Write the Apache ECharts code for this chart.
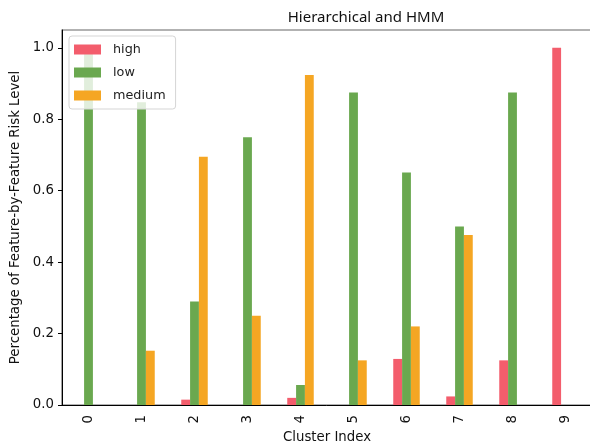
<!DOCTYPE html>
<html>
<head>
<meta charset="utf-8">
<script src="https://cdn.jsdelivr.net/npm/echarts@6/dist/echarts.min.js"></script>
<style>
  html, body { margin: 0; padding: 0; background: #fff; }
  #chart { width: 590px; height: 445px; }
</style>
</head>
<body>
<div id="chart"></div>
<script>
// Cluster indices along the x axis
const clusters = ['0', '1', '2', '3', '4', '5', '6', '7', '8', '9'];

// Share of features at each risk level, per cluster
const high   = [0,    0,     0.015, 0,    0.02,  0,     0.129, 0.024, 0.125, 1.0];
const low    = [1.0,  0.848, 0.29,  0.75, 0.056, 0.875, 0.651, 0.5,   0.875, 0];
const medium = [0,    0.152, 0.695, 0.25, 0.924, 0.125, 0.22,  0.476, 0,     0];

// Y-axis tick values
const yTicks = [0, 0.2, 0.4, 0.6, 0.8, 1.0];

const FONT = 'DejaVu Sans';
const FS = 13.3;

const chart = echarts.init(document.getElementById('chart'), null, { renderer: 'canvas' });

function barSeries(name, data, color) {
  return {
    name: name,
    type: 'bar',
    data: data,
    barGap: '0%',
    barCategoryGap: '50%',
    itemStyle: { color: color, borderWidth: 0 },
    emphasis: { disabled: true }
  };
}

chart.setOption({
  animation: false,
  backgroundColor: '#ffffff',
  title: {
    text: 'Hierarchical and HMM',
    left: 361,
    top: 5,
    textAlign: 'center',
    textStyle: { fontFamily: 'Noto Sans', fontSize: 15, fontWeight: 'normal', color: '#111' }
  },
  legend: {
    orient: 'vertical',
    left: 69,
    top: 36,
    width: 102,
    padding: [7, 10, 7, 5],
    itemWidth: 27,
    itemHeight: 10,
    itemGap: 10,
    icon: 'rect',
    backgroundColor: 'rgba(255,255,255,0.8)',
    borderColor: '#d5d5d5',
    borderWidth: 1,
    borderRadius: 3,
    textStyle: { fontFamily: FONT, fontSize: 12.8, color: '#222', padding: [0, 0, 0, 7] },
    data: ['high', 'low', 'medium']
  },
  grid: {
    left: 62,
    right: -2,
    top: 30,
    bottom: 40,
    show: true,
    borderColor: '#666',
    borderWidth: 1.2,
    containLabel: false,
    outerBoundsMode: 'none'
  },
  xAxis: {
    type: 'category',
    data: clusters,
    name: 'Cluster Index',
    nameLocation: 'middle',
    nameGap: 21,
    nameTextStyle: { fontFamily: FONT, fontSize: FS, color: '#111' },
    axisLine: { lineStyle: { color: '#000', width: 1 } },
    axisTick: { alignWithLabel: true, length: 4, lineStyle: { color: '#000' } },
    axisLabel: { rotate: 90, margin: 10, fontFamily: FONT, fontSize: FS, color: '#111' },
    splitLine: { show: false }
  },
  yAxis: {
    type: 'value',
    min: 0,
    max: 1.05,
    name: 'Percentage of Feature-by-Feature Risk Level',
    nameLocation: 'middle',
    nameGap: 36,
    nameTextStyle: { fontFamily: FONT, fontSize: FS, color: '#111' },
    axisLine: { show: true, lineStyle: { color: '#000', width: 1 } },
    axisTick: { show: true, length: 4, lineStyle: { color: '#000' }, customValues: yTicks },
    axisLabel: {
      margin: 8,
      fontFamily: FONT,
      fontSize: FS,
      color: '#111',
      customValues: yTicks,
      formatter: v => v.toFixed(1)
    },
    splitLine: { show: false }
  },
  series: [
    barSeries('high', high, '#f35d6c'),
    barSeries('low', low, '#6aa84f'),
    barSeries('medium', medium, '#f5a623')
  ]
});
</script>
</body>
</html>
